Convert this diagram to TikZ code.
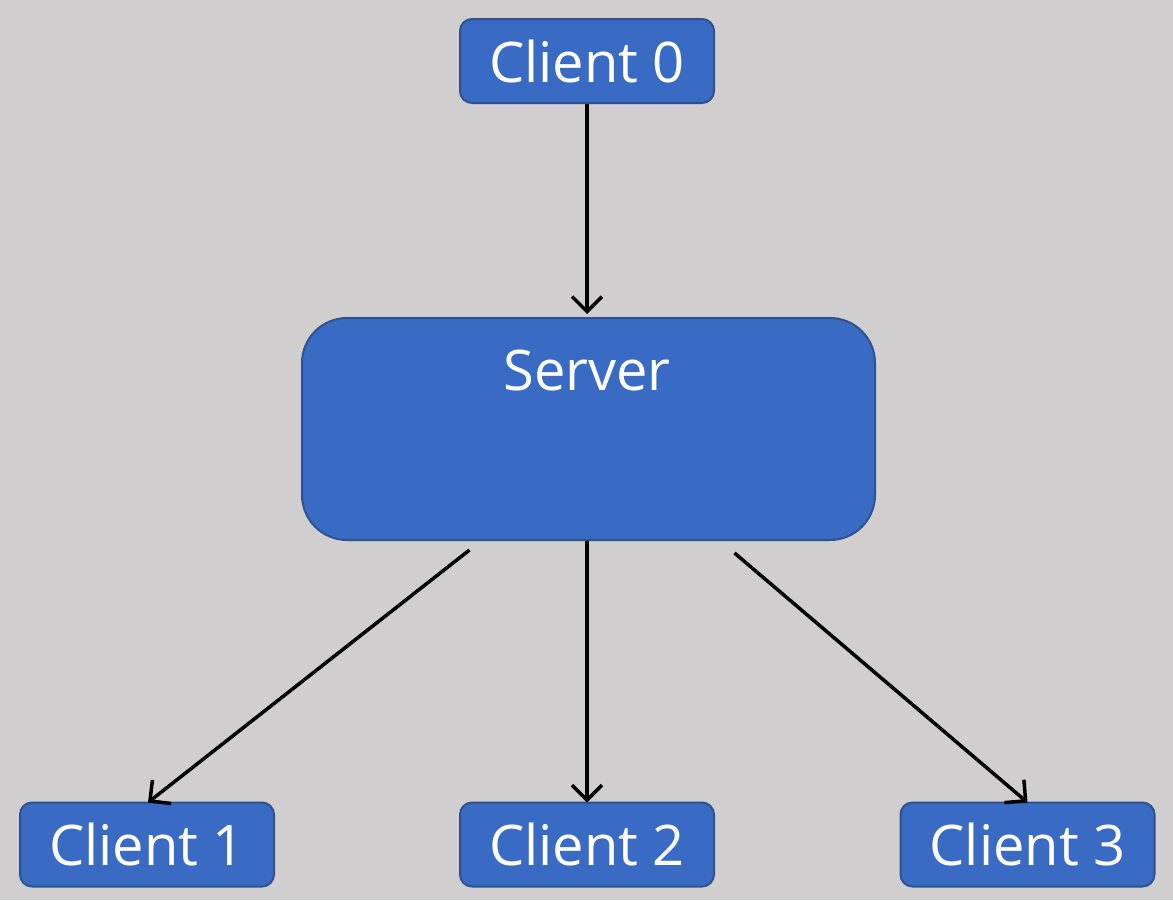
\documentclass[tikz,border=0pt]{standalone}
\usepackage{fontspec}
\setmainfont{Open Sans}
\usetikzlibrary{arrows.meta}
\definecolor{bg}{HTML}{D0CECF}
\definecolor{boxfill}{HTML}{3A6BC4}
\definecolor{boxline}{HTML}{2F528F}
\begin{document}
\begin{tikzpicture}[x=1pt,y=-1pt,
  clientbox/.style={draw=boxline, line width=2pt, fill=boxfill, rounded corners=12pt,
    minimum width=254pt, minimum height=84pt, inner sep=0pt, text=white,
    font=\fontsize{56}{64}\selectfont},
  serverbox/.style={draw=boxline, line width=2pt, fill=boxfill, rounded corners=45pt,
    minimum width=573pt, minimum height=222pt, inner sep=0pt},
  conn/.style={line width=3.5pt, -{Straight Barb[length=15pt,width=30pt,line width=3.5pt]}}]
\fill[bg] (0,0) rectangle (1173,900);
\useasboundingbox (0,0) rectangle (1173,900);
\node[clientbox] (c0) at (587,61) {Client 0};
\node[serverbox] (srv) at (588.5,429) {};
\node[text=white, font=\fontsize{56}{64}\selectfont] (srvlabel) at (587,370) {Server};
\node[clientbox] (c1) at (147,844.5) {Client 1};
\node[clientbox] (c2) at (587,844.5) {Client 2};
\node[clientbox] (c3) at (1027.5,844.5) {Client 3};
\draw[conn] (c0.south) -- ([yshift=3pt]srv.north -| c0.south);
\draw[conn] ([xshift=-119pt,yshift=-9pt]srv.south) -- ([xshift=1pt,yshift=-1pt]c1.north);
\draw[conn] (srv.south -| c2.north) -- ([yshift=-1pt]c2.north);
\draw[conn] ([xshift=146pt,yshift=-12pt]srv.south) -- ([yshift=-1pt]c3.north);
\end{tikzpicture}
\end{document}
